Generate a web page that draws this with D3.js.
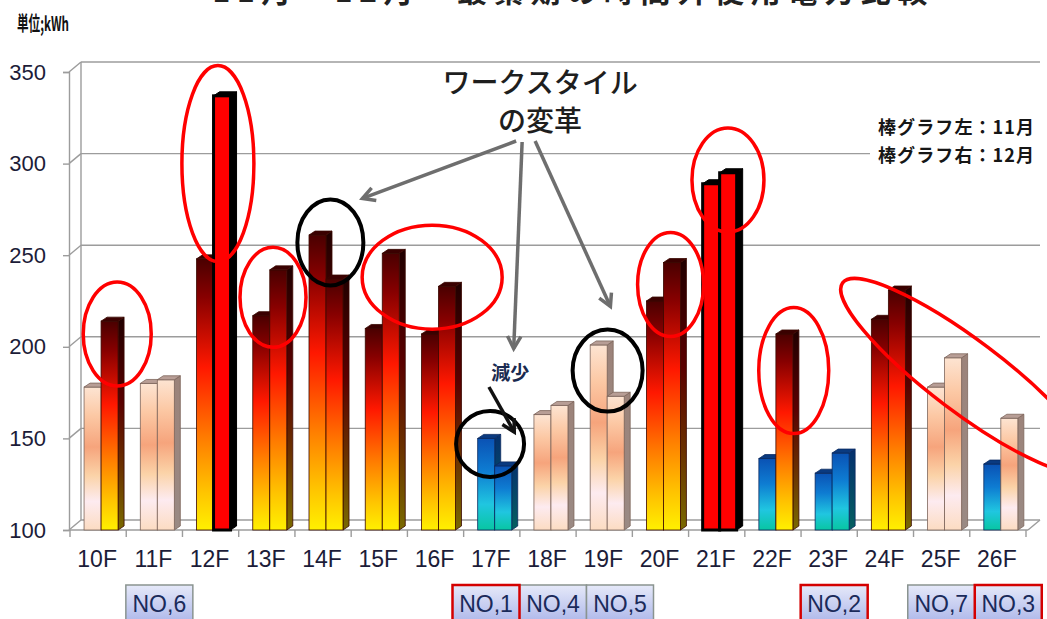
<!DOCTYPE html>
<html>
<head>
<meta charset="utf-8">
<script src="https://cdn.jsdelivr.net/npm/d3@7"></script>
<style>
  html, body { margin: 0; padding: 0; background: #fff; overflow: hidden; }
  svg { display: block; }
</style>
</head>
<body>
<svg id="chart" width="1047" height="619"></svg>
<script>
// ---- data -------------------------------------------------------------
const floors = ["10F","11F","12F","13F","14F","15F","16F","17F","18F","19F","20F","21F","22F","23F","24F","25F","26F"];
const months = ["11月","12月"];
// after-hours electricity use per floor (kWh)
const usageNov = [178, 180, 248, 217, 261, 210, 207, 150, 163, 201, 225, 289, 139, 131, 215, 178, 136];
const usageDec = [214, 182, 337, 242, 237, 251, 233, 135, 168, 173, 246, 295, 207, 142, 231, 194, 161];
const yTickValues = [100, 150, 200, 250, 300, 350];
const placards = [
  { label: "NO,6", floor: "11F", flagged: false },
  { label: "NO,1", floor: "17F", flagged: true },
  { label: "NO,4", floor: "18F", flagged: false },
  { label: "NO,5", floor: "19F", flagged: false },
  { label: "NO,2", floor: "23F", flagged: true },
  { label: "NO,7", floor: "25F", flagged: false },
  { label: "NO,3", floor: "26F", flagged: true }
];

// ---- setup ------------------------------------------------------------
const svg = d3.select("#chart");
const JP = "'Noto Sans CJK JP', 'Noto Sans', sans-serif";
const NARROW = "'Liberation Sans Narrow', 'Arial Narrow', 'Liberation Sans', Arial, sans-serif";
const ink = "#1c1c38";

const x = d3.scaleBand().domain(floors).range([70, 1026]).paddingInner(0).paddingOuter(0);
const bw = x.bandwidth();
const x1 = d3.scaleBand().domain(months).range([bw * 0.25, bw * 0.855]);
const y = d3.scaleLinear().domain([100, 350]).range([530, 72]);
const tier = d3.scaleThreshold().domain([155, 205, 280]).range(["cool", "pale", "warm", "peak"]);

const WDX = 12, WDY = -10;   // wall depth
const BDX = 6,  BDY = -4;    // bar depth
const px = (f, frac) => x(f) + frac * bw;

// ---- gradients --------------------------------------------------------
const defs = svg.append("defs");
function vgrad(id, stops) {
  const g = defs.append("linearGradient").attr("id", id)
    .attr("x1", 0).attr("y1", 0).attr("x2", 0).attr("y2", 1);
  stops.forEach(([o, c]) => g.append("stop").attr("offset", o).attr("stop-color", c));
}
vgrad("warmFront", [[0, "#4a0000"], [0.14, "#870000"], [0.4, "#ff1800"], [0.66, "#ff7c00"], [0.86, "#ffc400"], [1, "#fff000"]]);
vgrad("warmSide",  [[0, "#200000"], [0.4, "#5a0000"], [0.7, "#6a3000"], [1, "#7a6a00"]]);
vgrad("paleFront", [[0, "#fde4d2"], [0.2, "#fcc8a4"], [0.42, "#f6a47c"], [0.62, "#fbd3a8"], [0.8, "#fdebf0"], [1, "#fcdcc2"]]);
vgrad("paleSide",  [[0, "#9c837a"], [1, "#9a8a84"]]);
vgrad("coolFront", [[0, "#0a52b4"], [0.35, "#0e7cd2"], [0.72, "#20c6e0"], [1, "#08c6a2"]]);
vgrad("coolSide",  [[0, "#04306e"], [1, "#056060"]]);
vgrad("placardFill", [[0, "#e6e9f9"], [1, "#aeb8ea"]]);

const style = {
  warm: { front: "url(#warmFront)", side: "url(#warmSide)", top: "#3a0000", stroke: "#3a0800", sw: 0.8 },
  pale: { front: "url(#paleFront)", side: "url(#paleSide)", top: "#b89e96", stroke: "#7e665c", sw: 0.8 },
  cool: { front: "url(#coolFront)", side: "url(#coolSide)", top: "#0a3a80", stroke: "#0a2a60", sw: 0.8 },
  peak: { front: "#ff0000",          side: "#000",           top: "#000",    stroke: "#000",    sw: 3 }
};

// ---- title (cut by the top edge) and unit ----------------------------
svg.append("text").attr("x", 570).attr("y", 2).attr("text-anchor", "middle")
  .attr("font-family", JP).attr("font-weight", 700).attr("font-size", 30).attr("fill", "#222")
  .attr("textLength", 715).attr("lengthAdjust", "spacing")
  .text("11月・12月　最繁期の時間外使用電力比較");
svg.append("text").attr("x", 17).attr("y", 31)
  .attr("font-family", JP).attr("font-weight", 700).attr("font-size", 20).attr("fill", "#111")
  .attr("textLength", 52).attr("lengthAdjust", "spacingAndGlyphs")
  .text("単位;kWh");

// ---- walls, floor and grid -------------------------------------------
const grid = svg.append("g").attr("stroke", "#9c9c9c").attr("stroke-width", 1.4).attr("fill", "none");
const [xL, xR] = x.range();
// back wall grid lines
grid.selectAll("line.gl").data(yTickValues).join("line").attr("class", "gl")
  .attr("x1", xL - 1 + WDX).attr("x2", xR + 2 + WDX)
  .attr("y1", d => y(d) + WDY).attr("y2", d => y(d) + WDY);
// side wall diagonals
grid.selectAll("line.dg").data(yTickValues).join("line").attr("class", "dg")
  .attr("x1", xL - 1).attr("x2", xL - 1 + WDX)
  .attr("y1", d => y(d)).attr("y2", d => y(d) + WDY);
// wall edges
grid.append("line").attr("x1", xL - 1 + WDX).attr("x2", xL - 1 + WDX)
  .attr("y1", y(350) + WDY).attr("y2", y(100) + WDY);
grid.append("line").attr("x1", xR + 2).attr("x2", xR + 2 + WDX)
  .attr("y1", y(100)).attr("y2", y(100) + WDY);
grid.append("line").attr("x1", xL - 1).attr("x2", xR + 2)
  .attr("y1", y(100)).attr("y2", y(100));

// y axis
const yAxis = svg.append("g").attr("transform", `translate(${xL - 1},0)`)
  .call(d3.axisLeft(y).tickValues(yTickValues).tickSize(6).tickPadding(17).tickFormat(d3.format("d")));
yAxis.select(".domain").attr("stroke", "#9c9c9c").attr("stroke-width", 1.4);
yAxis.selectAll(".tick line").attr("stroke", "#9c9c9c").attr("stroke-width", 1.4);
yAxis.selectAll(".tick text").attr("font-family", NARROW).attr("font-size", 22).attr("fill", ink);

// x axis: labels at band centres, ticks at band edges
const xAxis = svg.append("g").attr("transform", `translate(0,${y(100)})`)
  .call(d3.axisBottom(x).tickSize(0).tickPadding(22));
xAxis.select(".domain").remove();
xAxis.selectAll(".tick text").attr("font-family", NARROW).attr("font-size", 23).attr("fill", ink)
  .attr("dx", -1).attr("dy", "0.66em");
svg.append("g").attr("stroke", "#9c9c9c").attr("stroke-width", 1.4)
  .selectAll("line").data(floors.concat([null])).join("line")
  .attr("x1", (d, i) => xL + i * bw).attr("x2", (d, i) => xL + i * bw)
  .attr("y1", y(100)).attr("y2", y(100) + 7);

// ---- bars -------------------------------------------------------------
const bars = floors.flatMap((f, i) => [
  { floor: f, month: months[0], v: usageNov[i] },
  { floor: f, month: months[1], v: usageDec[i] }
]);
const w = x1.bandwidth();
const barG = svg.append("g").selectAll("g").data(bars).join("g");
barG.each(function (d) {
  const g = d3.select(this);
  const s = style[tier(d.v)];
  const x0 = x(d.floor) + x1(d.month), yt = y(d.v), yb = y(100);
  g.append("path")
    .attr("d", `M${x0 + w},${yt}L${x0 + w + BDX},${yt + BDY}L${x0 + w + BDX},${yb + BDY}L${x0 + w},${yb}Z`)
    .attr("fill", s.side).attr("stroke", s.stroke).attr("stroke-width", Math.min(s.sw, 1));
  g.append("rect").attr("x", x0).attr("y", yt).attr("width", w).attr("height", yb - yt)
    .attr("fill", s.front).attr("stroke", s.stroke).attr("stroke-width", s.sw);
  g.append("path")
    .attr("d", `M${x0},${yt}L${x0 + BDX},${yt + BDY}L${x0 + w + BDX},${yt + BDY}L${x0 + w},${yt}Z`)
    .attr("fill", s.top).attr("stroke", s.stroke).attr("stroke-width", Math.min(s.sw, 1));
});

// ---- legend note --------------------------------------------------------
const note = svg.append("g").attr("font-family", JP).attr("font-weight", 700)
  .attr("font-size", 18).attr("fill", "#161616");
note.append("rect").attr("x", 870).attr("y", 113).attr("width", 172).attr("height", 56).attr("fill", "#fff");
note.append("text").attr("x", 878).attr("y", 134).attr("textLength", 156).text("棒グラフ左：11月");
note.append("text").attr("x", 878).attr("y", 162).attr("textLength", 156).text("棒グラフ右：12月");

// ---- rings --------------------------------------------------------------
const rings = [
  { f: "10F", at: 0.84, v: 207, rx: 34, ry: 52, c: "red" },
  { f: "12F", at: 0.63, v: 300, rx: 36, ry: 98, c: "red" },
  { f: "13F", at: 0.61, v: 227, rx: 33, ry: 50, c: "red" },
  { f: "14F", at: 0.63, v: 257, rx: 33, ry: 43, c: "black" },
  { f: "16F", at: 0.44, v: 238, rx: 70, ry: 52, c: "red" },
  { f: "17F", at: 0.47, v: 147, rx: 34, ry: 33, c: "black" },
  { f: "19F", at: 0.56, v: 187, rx: 35, ry: 41, c: "black" },
  { f: "20F", at: 0.68, v: 234, rx: 33, ry: 52, c: "red" },
  { f: "21F", at: 0.70, v: 291, rx: 36, ry: 52, c: "red" },
  { f: "22F", at: 0.87, v: 187, rx: 35, ry: 63, c: "red" },
  { f: "25F", at: 0.94, v: 184, rx: 155, ry: 36, c: "red", rot: 37 }
];
svg.append("g").attr("fill", "none").selectAll("ellipse").data(rings).join("ellipse")
  .attr("cx", 0).attr("cy", 0).attr("rx", d => d.rx).attr("ry", d => d.ry)
  .attr("transform", d => `translate(${px(d.f, d.at)},${y(d.v)}) rotate(${d.rot || 0})`)
  .attr("stroke", d => d.c === "red" ? "#ff0000" : "#000")
  .attr("stroke-width", d => d.c === "red" ? 3.5 : 4);

// ---- callouts ---------------------------------------------------------
function arrow(g, [ax, ay], [bx, by], color, width) {
  g.append("line").attr("x1", ax).attr("y1", ay).attr("x2", bx).attr("y2", by)
    .attr("stroke", color).attr("stroke-width", width);
  const a = Math.atan2(by - ay, bx - ax), L = 14, s = 0.5;
  g.append("path")
    .attr("d", `M${bx - L * Math.cos(a - s)},${by - L * Math.sin(a - s)}L${bx},${by}L${bx - L * Math.cos(a + s)},${by - L * Math.sin(a + s)}`)
    .attr("fill", "none").attr("stroke", color).attr("stroke-width", width)
    .attr("stroke-linejoin", "miter");
}
const call = svg.append("g");
const cx = px("18F", 0.36);
call.append("text").attr("x", cx).attr("y", 93).attr("text-anchor", "middle")
  .attr("font-family", JP).attr("font-weight", 500).attr("font-size", 28).attr("fill", "#1e1e1e")
  .text("ワークスタイル");
call.append("text").attr("x", cx).attr("y", 131).attr("text-anchor", "middle")
  .attr("font-family", JP).attr("font-weight", 500).attr("font-size", 28).attr("fill", "#1e1e1e")
  .text("の変革");
arrow(call, [cx - 24, 141], [px("15F", 0.2), y(281)], "#6e6e6e", 3.5);
arrow(call, [cx - 18, 142], [px("17F", 0.89), y(199)], "#6e6e6e", 3.5);
arrow(call, [cx - 5, 141], [px("19F", 0.61), y(222)], "#6e6e6e", 3.5);

call.append("text").attr("x", px("18F", -0.17)).attr("y", 380).attr("text-anchor", "middle")
  .attr("font-family", JP).attr("font-weight", 700).attr("font-size", 19).attr("fill", "#1a2a50")
  .text("減少");
arrow(call, [px("17F", 0.45), 387], [px("17F", 0.9), 432], "#111", 3.5);

// ---- placards under floors --------------------------------------------
const idx = f => floors.indexOf(f);
const groups = [];
placards.forEach(p => {
  const last = groups[groups.length - 1];
  if (last && idx(p.floor) === idx(last[last.length - 1].floor) + 1) last.push(p);
  else groups.push([p]);
});
const boxW = 67;
groups.forEach(g => {
  const c = d3.mean(g, p => x(p.floor) + bw / 2) + 5;
  const start = c - boxW * g.length / 2;
  g.forEach((p, i) => { p.x0 = start + i * boxW; });
});
const pl = svg.append("g").selectAll("g")
  .data(placards.slice().sort((a, b) => a.flagged - b.flagged)).join("g");
pl.append("rect").attr("x", d => d.x0).attr("y", 585).attr("width", boxW).attr("height", 37)
  .attr("fill", "url(#placardFill)")
  .attr("stroke", d => d.flagged ? "#d40000" : "#8a9490")
  .attr("stroke-width", d => d.flagged ? 2.5 : 1.5);
pl.append("text").attr("x", d => d.x0 + boxW / 2).attr("y", 612).attr("text-anchor", "middle")
  .attr("font-family", NARROW).attr("font-size", 23).attr("fill", "#1a2a5a")
  .text(d => d.label);
</script>
</body>
</html>
